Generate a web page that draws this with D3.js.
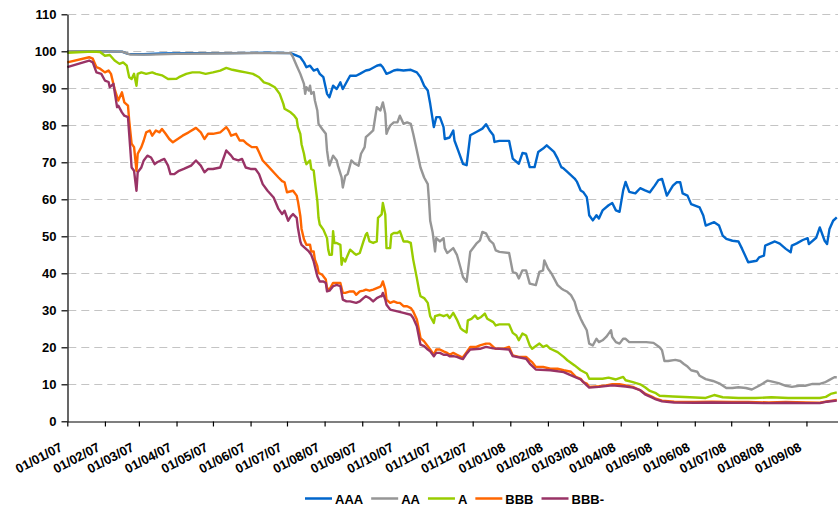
<!DOCTYPE html>
<html><head><meta charset="utf-8">
<script src="https://cdn.jsdelivr.net/npm/d3@7"></script>
<style>
body{margin:0;background:#fff}
svg{display:block}
text{font-family:"Liberation Sans",Arial,sans-serif;font-weight:bold;fill:#000}
</style>
</head><body><svg id="c" width="838" height="508"></svg>
<script>
const seriesNames = ["AAA","AA","A","BBB","BBB-"];
const seriesColors = ["#0066CC","#969696","#99CC00","#FF6600","#993366"];
const yTickValues = [0,10,20,30,40,50,60,70,80,90,100,110];
const xDomain = ["2007-01-01","2008-09-27"];
const xTickRange = ["2007-01-01","2008-09-02"];

const aaa = [["2007-01-01",100],["2007-01-20",100],["2007-02-15",99.9],["2007-02-20",99.3],["2007-03-05",99.2],["2007-03-20",99.4],["2007-04-15",99.5],["2007-05-15",99.5],["2007-06-15",99.6],["2007-07-04",99.5],["2007-07-12",98.4],["2007-07-15",97],["2007-07-17",95.7],["2007-07-20",96.1],["2007-07-23",94.8],["2007-07-26",95.2],["2007-07-28",93.9],["2007-07-31",93],["2007-08-03",88.5],["2007-08-05",87.6],["2007-08-08",90.7],["2007-08-11",89.8],["2007-08-14",91.6],["2007-08-16",89.8],["2007-08-22",93.4],["2007-08-27",93.4],["2007-08-30",93.9],["2007-09-04",94.8],["2007-09-07",95],["2007-09-13",96.1],["2007-09-16",96.4],["2007-09-18",95.7],["2007-09-21",93.9],["2007-09-24",94.3],["2007-09-27",94.8],["2007-09-30",95],["2007-10-05",94.8],["2007-10-11",95],["2007-10-16",94.3],["2007-10-19",93],["2007-10-22",90.7],["2007-10-25",89.4],["2007-10-27",85.8],["2007-10-30",79.5],["2007-11-01",82.2],["2007-11-04",82.2],["2007-11-07",79.5],["2007-11-08",76.3],["2007-11-12",76.7],["2007-11-15",78.6],["2007-11-16",75.9],["2007-11-19",73.2],["2007-11-23",69.6],["2007-11-26",69.2],["2007-11-29",77.3],["2007-12-04",78.2],["2007-12-09",79.1],["2007-12-12",80.3],["2007-12-15",78.6],["2007-12-18",77.3],["2007-12-19",75.5],["2007-12-23",75.8],["2007-12-31",75.8],["2008-01-03",71],["2008-01-08",69.6],["2008-01-11",72.5],["2008-01-14",72.3],["2008-01-17",68.7],["2008-01-21",68.7],["2008-01-24",72.8],["2008-01-28",73.7],["2008-01-31",74.6],["2008-02-03",73.7],["2008-02-06",72.8],["2008-02-09",71],["2008-02-12",68.7],["2008-02-14",68.3],["2008-02-17",67.4],["2008-02-23",65.6],["2008-02-25",64.7],["2008-02-28",62.4],["2008-03-01",62],["2008-03-04",60.6],["2008-03-05",58.4],["2008-03-06",55.7],["2008-03-09",54.3],["2008-03-12",55.7],["2008-03-14",54.8],["2008-03-17",57],["2008-03-22",58.4],["2008-03-25",59],["2008-03-28",57],["2008-03-31",56.6],["2008-04-03",62.4],["2008-04-05",64.7],["2008-04-08",62],["2008-04-13",61.6],["2008-04-17",63],["2008-04-21",62.4],["2008-04-25",61.9],["2008-04-29",63.7],["2008-05-02",65.2],["2008-05-05",65.5],["2008-05-09",61],["2008-05-14",63.7],["2008-05-17",64.6],["2008-05-20",64.6],["2008-05-22",61.6],["2008-05-26",61],["2008-05-29",58.7],["2008-06-05",57.8],["2008-06-08",55.6],["2008-06-10",52.9],["2008-06-17",53.8],["2008-06-21",52.9],["2008-06-24",50.2],["2008-06-27",49.3],["2008-07-02",48.8],["2008-07-07",48.6],["2008-07-10",46.6],["2008-07-15",43],["2008-07-22",43.4],["2008-07-24",44.3],["2008-07-28",44.8],["2008-07-29",47.5],["2008-08-06",48.6],["2008-08-10",48],["2008-08-15",46.6],["2008-08-19",45.7],["2008-08-20",47.5],["2008-08-24",48.1],["2008-08-29",49],["2008-09-02",49.5],["2008-09-03",47.9],["2008-09-09",49.6],["2008-09-12",52.4],["2008-09-16",48.8],["2008-09-18",47.9],["2008-09-20",52],["2008-09-23",54.2],["2008-09-26",55.1]];

const aa = [["2007-01-01",100],["2007-02-15",99.9],["2007-02-22",99.1],["2007-03-10",99.1],["2007-04-01",99.3],["2007-05-01",99.4],["2007-06-01",99.5],["2007-07-04",99.5],["2007-07-06",98.4],["2007-07-09",96.1],["2007-07-12",93.9],["2007-07-15",91.2],["2007-07-16",88.5],["2007-07-17",90.3],["2007-07-19",89.4],["2007-07-20",90.7],["2007-07-21",88.5],["2007-07-23",89],["2007-07-24",86.7],["2007-07-26",84],["2007-07-27",80.4],["2007-07-30",79],["2007-08-02",77.7],["2007-08-03",73.2],["2007-08-04",70.9],["2007-08-05",69.1],["2007-08-08",71.8],["2007-08-11",70.5],["2007-08-12",69.1],["2007-08-15",65.9],["2007-08-16",63.2],["2007-08-18",66.3],["2007-08-20",66.8],["2007-08-23",70.5],["2007-08-26",69.6],["2007-08-29",69.1],["2007-08-31",72.3],["2007-09-03",74.1],["2007-09-04",76.8],["2007-09-07",77.7],["2007-09-10",78.6],["2007-09-13",84.9],["2007-09-16",84],["2007-09-18",86.2],["2007-09-20",83.1],["2007-09-21",77.7],["2007-09-22",78.6],["2007-09-24",79.9],["2007-09-27",80.8],["2007-09-30",80.8],["2007-10-02",82.6],["2007-10-05",80.4],["2007-10-08",80.8],["2007-10-11",80.4],["2007-10-13",77.7],["2007-10-16",73.2],["2007-10-19",68.6],["2007-10-22",65.9],["2007-10-25",64.1],["2007-10-26",59.6],["2007-10-27",54.2],["2007-10-29",51.1],["2007-10-30",48.6],["2007-10-31",45.9],["2007-11-01",49.5],["2007-11-04",48.6],["2007-11-07",49.5],["2007-11-08",46.8],["2007-11-10",45.5],["2007-11-12",46],["2007-11-15",46.8],["2007-11-18",45],["2007-11-21",41.5],["2007-11-23",39],["2007-11-26",37.7],["2007-11-29",45.8],["2007-12-02",47.1],["2007-12-04",48],["2007-12-07",48.9],["2007-12-09",51.2],["2007-12-12",50.8],["2007-12-15",48.9],["2007-12-18",48],["2007-12-20",46.2],["2007-12-23",45.8],["2007-12-31",45.5],["2008-01-03",40.4],["2008-01-06",40],["2008-01-08",38.6],["2008-01-11",40.8],["2008-01-14",40.8],["2008-01-17",37.2],["2008-01-22",36.8],["2008-01-25",40.4],["2008-01-28",40.8],["2008-01-29",43.5],["2008-02-01",41.3],["2008-02-04",39.9],["2008-02-09",36.8],["2008-02-12",35.9],["2008-02-14",35.5],["2008-02-17",35],["2008-02-20",34.1],["2008-02-23",32.3],["2008-02-25",30],["2008-02-28",27.7],["2008-03-01",26.4],["2008-03-04",24.6],["2008-03-06",21],["2008-03-09",20.5],["2008-03-12",22.3],["2008-03-14",21.4],["2008-03-17",21.9],["2008-03-20",22.8],["2008-03-22",23.7],["2008-03-24",24.6],["2008-03-25",22.8],["2008-03-28",21.4],["2008-03-31",21],["2008-04-03",22.3],["2008-04-05",22.3],["2008-04-08",21.4],["2008-04-13",21.4],["2008-04-17",21.4],["2008-04-22",21.4],["2008-04-28",21.2],["2008-05-03",20],["2008-05-05",19.2],["2008-05-07",16.3],["2008-05-10",16.3],["2008-05-16",16.6],["2008-05-20",16.3],["2008-05-23",15.5],["2008-05-26",14.8],["2008-05-29",13.8],["2008-06-03",13.4],["2008-06-05",12.3],["2008-06-10",11.4],["2008-06-16",10.9],["2008-06-22",10.1],["2008-06-27",9],["2008-07-02",9],["2008-07-07",9.2],["2008-07-13",9],["2008-07-18",8.6],["2008-07-24",9.6],["2008-07-31",11],["2008-08-03",10.8],["2008-08-09",10.3],["2008-08-15",9.6],["2008-08-20",9.3],["2008-08-26",9.6],["2008-08-31",9.6],["2008-09-06",10.1],["2008-09-12",10.1],["2008-09-16",10.5],["2008-09-20",11.2],["2008-09-24",11.9],["2008-09-26",11.9]];

const a = [["2007-01-01",99.6],["2007-01-22",99.9],["2007-01-28",99.8],["2007-02-01",98.8],["2007-02-05",99],["2007-02-09",97.5],["2007-02-13",96.6],["2007-02-16",97],["2007-02-19",96.1],["2007-02-21",93],["2007-02-23",92.5],["2007-02-25",93.9],["2007-02-27",90.7],["2007-02-28",93.9],["2007-03-03",94.3],["2007-03-07",93.9],["2007-03-12",94.3],["2007-03-15",93.9],["2007-03-20",93.5],["2007-03-25",92.5],["2007-04-01",92.6],["2007-04-03",93],["2007-04-09",93.9],["2007-04-14",94.3],["2007-04-20",94.3],["2007-04-25",93.9],["2007-05-01",94.3],["2007-05-07",94.8],["2007-05-12",95.5],["2007-05-17",95],["2007-05-23",94.6],["2007-05-28",94.3],["2007-06-03",93.9],["2007-06-08",93],["2007-06-12",91.6],["2007-06-16",91.2],["2007-06-21",90.3],["2007-06-25",88.5],["2007-06-28",85.8],["2007-06-29",84.5],["2007-07-04",83.5],["2007-07-07",82.6],["2007-07-09",81.7],["2007-07-10",79.5],["2007-07-12",77.7],["2007-07-13",74.9],["2007-07-15",72.3],["2007-07-16",70.5],["2007-07-17",69.5],["2007-07-20",70.5],["2007-07-21",68.2],["2007-07-23",67.8],["2007-07-24",64.9],["2007-07-26",59.6],["2007-07-27",55],["2007-07-28",53.2],["2007-07-31",51.8],["2007-08-03",49.5],["2007-08-04",46.4],["2007-08-05",45],["2007-08-07",45],["2007-08-08",51.4],["2007-08-09",48.2],["2007-08-11",48.2],["2007-08-14",47.7],["2007-08-15",42.3],["2007-08-16",44.1],["2007-08-18",43.2],["2007-08-19",44.1],["2007-08-22",46.4],["2007-08-25",45.5],["2007-08-27",45],["2007-08-30",45.5],["2007-09-02",48.6],["2007-09-04",50.5],["2007-09-05",50.9],["2007-09-07",48.6],["2007-09-10",48.2],["2007-09-13",48.6],["2007-09-14",55],["2007-09-17",55.9],["2007-09-18",59],["2007-09-20",55.9],["2007-09-21",46.8],["2007-09-24",46.8],["2007-09-25",50.5],["2007-09-27",50.9],["2007-09-30",50.9],["2007-10-02",51.4],["2007-10-03",50.5],["2007-10-05",48.6],["2007-10-08",48.6],["2007-10-11",48.2],["2007-10-13",43.7],["2007-10-16",38.7],["2007-10-18",35.1],["2007-10-19",33.8],["2007-10-22",33.3],["2007-10-25",32],["2007-10-27",28.4],["2007-10-30",26.6],["2007-10-31",28.4],["2007-11-04",28.8],["2007-11-07",28.4],["2007-11-10",28.8],["2007-11-12",27.9],["2007-11-15",29.3],["2007-11-18",27.5],["2007-11-21",25.2],["2007-11-23",24.6],["2007-11-26",24],["2007-11-27",27.3],["2007-11-30",27.7],["2007-12-03",28.6],["2007-12-05",27.7],["2007-12-08",28.2],["2007-12-11",29.1],["2007-12-13",27.7],["2007-12-18",26.8],["2007-12-20",25.9],["2007-12-23",26.2],["2007-12-31",26.2],["2008-01-03",23.9],["2008-01-06",23.2],["2008-01-08",21.9],["2008-01-11",23.7],["2008-01-14",23.2],["2008-01-17",20.5],["2008-01-19",19.6],["2008-01-25",21],["2008-01-28",20.1],["2008-01-31",20.5],["2008-02-03",19.6],["2008-02-09",18.7],["2008-02-14",17.4],["2008-02-17",16.5],["2008-02-23",15.1],["2008-02-28",13.8],["2008-03-04",12.9],["2008-03-06",11.5],["2008-03-12",11.5],["2008-03-17",11.5],["2008-03-22",11.8],["2008-03-28",11.3],["2008-04-03",12],["2008-04-05",11.1],["2008-04-11",10.6],["2008-04-17",10],["2008-04-21",9.2],["2008-04-25",8.2],["2008-04-30",7.6],["2008-05-03",6.9],["2008-05-14",6.7],["2008-05-28",6.5],["2008-06-10",6.3],["2008-06-17",7.1],["2008-06-24",6.5],["2008-07-07",6.3],["2008-07-21",6.3],["2008-08-03",6.5],["2008-08-17",6.3],["2008-08-31",6.3],["2008-09-12",6.3],["2008-09-17",6.6],["2008-09-21",7.4],["2008-09-26",7.8]];

const bbb = [["2007-01-01",97],["2007-01-19",98.4],["2007-01-22",98],["2007-01-25",95.7],["2007-01-28",95.3],["2007-02-01",94.3],["2007-02-04",94.8],["2007-02-06",93.9],["2007-02-09",89.8],["2007-02-12",86.7],["2007-02-15",88.9],["2007-02-17",86.2],["2007-02-20",85.3],["2007-02-21",81.3],["2007-02-23",75],["2007-02-25",74.1],["2007-02-27",67.7],["2007-02-28",72.3],["2007-03-03",74.1],["2007-03-05",75.9],["2007-03-07",78.1],["2007-03-10",78.6],["2007-03-12",77.2],["2007-03-15",78.6],["2007-03-18",78.1],["2007-03-20",79],["2007-03-23",77.7],["2007-03-26",76.3],["2007-03-29",75.4],["2007-04-02",76.3],["2007-04-06",77.2],["2007-04-11",78.1],["2007-04-17",79.3],["2007-04-21",78.1],["2007-04-24",76.3],["2007-04-27",77.7],["2007-05-01",77.7],["2007-05-07",78.1],["2007-05-12",79.5],["2007-05-14",78.6],["2007-05-16",77.2],["2007-05-20",77.7],["2007-05-23",75.9],["2007-05-26",75.9],["2007-05-29",75],["2007-06-02",74.1],["2007-06-06",74.1],["2007-06-08",72.7],["2007-06-11",70.5],["2007-06-15",69.1],["2007-06-20",67.3],["2007-06-24",65.9],["2007-06-27",64.9],["2007-06-29",64.6],["2007-07-01",61.9],["2007-07-06",62.3],["2007-07-09",61],["2007-07-10",59.5],["2007-07-12",55.5],["2007-07-13",52],["2007-07-15",49.2],["2007-07-17",47.7],["2007-07-20",47.7],["2007-07-21",45.9],["2007-07-23",45.9],["2007-07-24",43.7],["2007-07-26",41.9],["2007-07-27",40.1],["2007-07-30",39.6],["2007-08-02",38.3],["2007-08-03",36],["2007-08-05",35.6],["2007-08-08",37.4],["2007-08-11",37.4],["2007-08-14",37.4],["2007-08-16",34.7],["2007-08-18",34.7],["2007-08-22",35.1],["2007-08-25",35.1],["2007-08-27",34.2],["2007-08-30",35.1],["2007-09-02",35.3],["2007-09-04",35.6],["2007-09-07",35.3],["2007-09-10",35.6],["2007-09-13",36],["2007-09-16",36.4],["2007-09-17",36.9],["2007-09-18",37.8],["2007-09-20",35.6],["2007-09-21",32.9],["2007-09-24",32],["2007-09-27",32.4],["2007-09-30",32],["2007-10-02",32],["2007-10-05",31.1],["2007-10-08",31.1],["2007-10-11",30.6],["2007-10-13",29.7],["2007-10-16",27.5],["2007-10-18",24.3],["2007-10-19",22.5],["2007-10-22",21.6],["2007-10-25",20.3],["2007-10-27",19.4],["2007-10-30",18],["2007-11-01",19.4],["2007-11-04",19.4],["2007-11-07",18.9],["2007-11-10",18.5],["2007-11-12",18],["2007-11-15",18.5],["2007-11-18",18],["2007-11-21",17.5],["2007-11-23",17.3],["2007-11-26",18.7],["2007-11-29",20.1],["2007-12-04",20.1],["2007-12-07",20.5],["2007-12-12",21],["2007-12-15",21],["2007-12-18",20.1],["2007-12-20",19.6],["2007-12-26",19.6],["2007-12-31",20.1],["2008-01-03",17.8],["2008-01-08",17.4],["2008-01-14",17.4],["2008-01-17",16.5],["2008-01-19",16],["2008-01-22",14.7],["2008-01-28",14.7],["2008-02-03",14.2],["2008-02-09",14.2],["2008-02-14",13.8],["2008-02-20",13.4],["2008-02-24",12],["2008-02-28",11.5],["2008-03-01",10.6],["2008-03-04",10.2],["2008-03-06",9.3],["2008-03-14",9.5],["2008-03-20",9.7],["2008-03-25",10],["2008-03-31",10],["2008-04-05",9.7],["2008-04-11",9.3],["2008-04-17",8.4],["2008-04-21",7.5],["2008-04-27",6.6],["2008-04-30",6.1],["2008-05-05",5.6],["2008-05-15",5.3],["2008-06-01",5.2],["2008-06-15",5.3],["2008-07-01",5.2],["2008-07-15",5.2],["2008-08-01",5.1],["2008-08-15",5.2],["2008-09-01",5.1],["2008-09-12",5],["2008-09-18",5.4],["2008-09-26",5.8]];

const bbbMinus = [["2007-01-01",95.7],["2007-01-19",97.5],["2007-01-22",97],["2007-01-25",94.3],["2007-01-29",93.9],["2007-02-01",92.1],["2007-02-04",91.7],["2007-02-05",90.3],["2007-02-08",91.2],["2007-02-11",84.9],["2007-02-12",85.3],["2007-02-15",83.5],["2007-02-17",82.6],["2007-02-20",82.2],["2007-02-21",77.7],["2007-02-23",68.6],["2007-02-25",67.7],["2007-02-27",62.3],["2007-02-28",67.3],["2007-03-03",68.6],["2007-03-05",70.5],["2007-03-08",71.8],["2007-03-11",71.3],["2007-03-14",69.5],["2007-03-16",70],["2007-03-19",70.5],["2007-03-22",70.9],["2007-03-25",69.1],["2007-03-27",66.8],["2007-03-30",66.8],["2007-04-03",67.7],["2007-04-07",68.2],["2007-04-13",69.1],["2007-04-17",70.5],["2007-04-21",69.1],["2007-04-24",67.3],["2007-04-27",68.2],["2007-05-01",68.2],["2007-05-07",68.6],["2007-05-11",72.3],["2007-05-12",73.2],["2007-05-16",71.8],["2007-05-18",70.9],["2007-05-22",70.5],["2007-05-25",70.9],["2007-05-28",68.6],["2007-06-01",68.2],["2007-06-05",68.2],["2007-06-08",66.8],["2007-06-11",64.1],["2007-06-15",62.3],["2007-06-20",60.5],["2007-06-24",57.4],["2007-06-27",56],["2007-06-29",56.9],["2007-07-02",54.2],["2007-07-04",55.3],["2007-07-06",56],["2007-07-09",55],["2007-07-10",52.3],["2007-07-12",48.6],["2007-07-13",47.7],["2007-07-16",46.8],["2007-07-19",45.9],["2007-07-21",45],["2007-07-23",43.2],["2007-07-26",39.2],["2007-07-28",37.8],["2007-07-31",37.8],["2007-08-02",37.4],["2007-08-03",35.1],["2007-08-05",35.3],["2007-08-08",36.5],["2007-08-11",36.9],["2007-08-14",36.5],["2007-08-16",32.9],["2007-08-19",32.4],["2007-08-22",32.4],["2007-08-27",32],["2007-08-30",32.4],["2007-09-02",33.3],["2007-09-04",33.8],["2007-09-07",33.3],["2007-09-10",32.4],["2007-09-13",33.3],["2007-09-16",33.8],["2007-09-17",33.8],["2007-09-18",34.7],["2007-09-20",32.9],["2007-09-21",31.5],["2007-09-24",30.2],["2007-09-30",29.7],["2007-10-05",29.3],["2007-10-11",28.8],["2007-10-13",27.9],["2007-10-16",25.7],["2007-10-19",20.7],["2007-10-22",20.3],["2007-10-25",19.4],["2007-10-27",18.9],["2007-10-30",17.6],["2007-11-01",18.5],["2007-11-04",18.5],["2007-11-07",18],["2007-11-10",18],["2007-11-12",17.6],["2007-11-15",17.6],["2007-11-18",17.4],["2007-11-21",17],["2007-11-23",16.8],["2007-11-26",18.3],["2007-11-29",19.4],["2007-12-07",19.6],["2007-12-12",20.1],["2007-12-18",19.7],["2007-12-31",19.4],["2008-01-03",17.6],["2008-01-14",16.9],["2008-01-17",15.6],["2008-01-22",14],["2008-02-03",13.8],["2008-02-14",13.3],["2008-02-23",12],["2008-02-28",11.3],["2008-03-04",9.7],["2008-03-06",9.1],["2008-03-14",9.3],["2008-03-25",9.7],["2008-04-05",9.4],["2008-04-11",9.1],["2008-04-17",8.4],["2008-04-21",7.3],["2008-04-27",6.4],["2008-04-30",5.9],["2008-05-05",5.4],["2008-05-15",5.1],["2008-06-01",5],["2008-06-15",5.1],["2008-07-01",5],["2008-07-15",5],["2008-08-01",4.9],["2008-08-15",5],["2008-09-01",4.9],["2008-09-12",4.9],["2008-09-18",5.3],["2008-09-26",5.6]];

const seriesData = [aaa, aa, a, bbb, bbbMinus];

const parse = d3.utcParse("%Y-%m-%d");
const fmt = d3.utcFormat("%d/%m/%y");
const svg = d3.select("#c");
const plotL = 67.3, plotR = 838, plotT = 14.3, plotB = 421.3;

const x = d3.scaleUtc().domain(xDomain.map(parse)).range([plotL, plotR]);
const y = d3.scaleLinear().domain([0, 110]).range([plotB, plotT]);

// gridlines
svg.append("g").selectAll("line")
  .data(yTickValues.filter(v => v > 0))
  .join("line")
  .attr("x1", plotL + 1).attr("x2", plotR)
  .attr("y1", d => Math.round(y(d)) + 0.5).attr("y2", d => Math.round(y(d)) + 0.5)
  .attr("stroke", "#c4c4c4").attr("stroke-width", 1)
  .attr("stroke-dasharray", "8,5");

// series lines
const line = d3.line().x(d => x(parse(d[0]))).y(d => y(d[1]));
svg.append("g").selectAll("path")
  .data(seriesData)
  .join("path")
  .attr("d", d => line(d))
  .attr("fill", "none")
  .attr("stroke", (d, i) => seriesColors[i])
  .attr("stroke-width", 2.4)
  .attr("stroke-linejoin", "round");

// y axis
const yAxis = svg.append("g").attr("transform", `translate(${Math.round(plotL) + 0.5},0)`)
  .call(d3.axisLeft(y).tickValues(yTickValues).tickSize(6).tickSizeOuter(0).tickPadding(5));
yAxis.select(".domain").attr("stroke", "#000").attr("stroke-width", 1.2);
yAxis.selectAll(".tick line").attr("stroke", "#000").attr("stroke-width", 1.2);
yAxis.selectAll(".tick text").style("font-size", "13px").style("font-family", '"Liberation Sans",Arial,sans-serif').style("font-weight", "bold");

// x axis
const months = d3.utcMonth.range(parse(xTickRange[0]), parse(xTickRange[1]));
const xAxis = svg.append("g").attr("transform", `translate(0,${Math.round(plotB) + 0.5})`)
  .call(d3.axisBottom(x).tickValues(months).tickFormat(fmt).tickSize(5).tickSizeOuter(0));
xAxis.select(".domain").attr("stroke", "#000").attr("stroke-width", 1.2);
xAxis.selectAll(".tick line").attr("stroke", "#000").attr("stroke-width", 1.2);
xAxis.selectAll(".tick text")
  .attr("x", 0).attr("y", 0).attr("dy", 0)
  .attr("text-anchor", "end")
  .attr("transform", "translate(-4.5,28.5) rotate(-28)")
  .style("font-size", "13px").style("font-family", '"Liberation Sans",Arial,sans-serif').style("font-weight", "bold");

// legend
const lg = svg.append("g");
let lx = 305;
seriesNames.forEach((name, i) => {
  lg.append("line").attr("x1", lx).attr("x2", lx + 27).attr("y1", 498.5).attr("y2", 498.5)
    .attr("stroke", seriesColors[i]).attr("stroke-width", 2.5);
  const t = lg.append("text").attr("x", lx + 30).attr("y", 503.5)
    .style("font-size", "13px").text(name);
  lx += 30 + t.node().getComputedTextLength() + 8;
});
</script>
</body></html>
